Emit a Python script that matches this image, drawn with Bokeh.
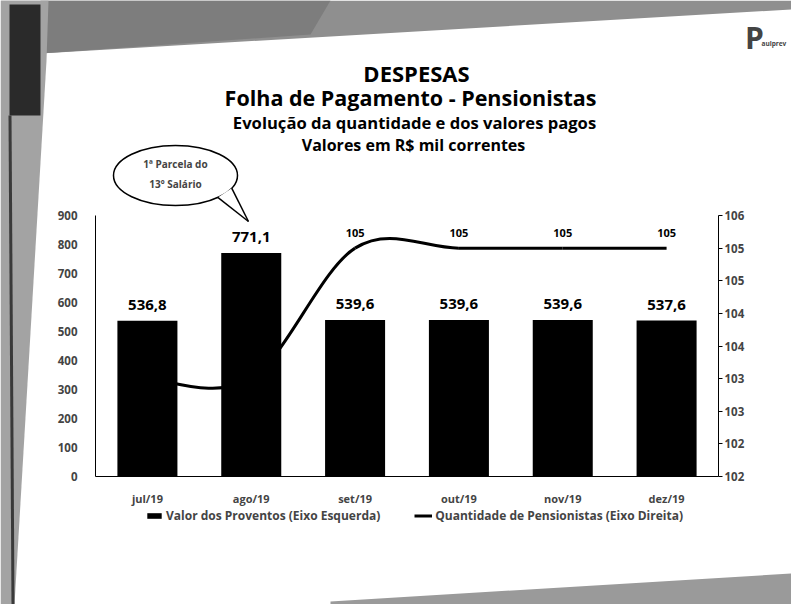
import numpy as np
from bokeh.plotting import figure
from bokeh.models import (Range1d, LinearAxis, FixedTicker, ColumnDataSource, LabelSet, Label,
                          Legend, LegendItem, PolyAnnotation)
from bokeh.core.properties import value
from bokeh.embed import file_html
from bokeh.resources import INLINE

# ---------------- data ----------------
months = ["jul/19", "ago/19", "set/19", "out/19", "nov/19", "dez/19"]
proventos = [536.8, 771.1, 539.6, 539.6, 539.6, 537.6]
pensionistas = [103.5, 103.5, 105.5, 105.5, 105.5, 105.5]
left_ticks = [0, 100, 200, 300, 400, 500, 600, 700, 800, 900]
right_ticks = [102, 102.5, 103, 103.5, 104, 104.5, 105, 105.5, 106]
right_tick_labels = ["102", "102", "103", "103", "104", "104", "105", "105", "106"]

FONT = "Open Sans"

# ---------------- geometry (frame = whole canvas, axes at fixed locations) ----------------
W, H = 791, 604
AX_L, AX_R, AX_T, AX_B = 95, 718, 215, 476      # plot-area edges in picture pixels
CAT_W = (AX_R - AX_L) / 6.0
PX_PER_UNIT = (AX_B - AX_T) / 900.0
R_PX_PER_UNIT = (AX_B - AX_T) / 4.0

X0 = -0.5 - AX_L / CAT_W
X1 = 5.5 + (W - AX_R) / CAT_W
Y0 = -(H - AX_B) / PX_PER_UNIT
Y1 = AX_B / PX_PER_UNIT
RY0 = 102 - (H - AX_B) / R_PX_PER_UNIT
RY1 = 102 + AX_B / R_PX_PER_UNIT


def dx(px):
    """picture x -> data x"""
    return X0 + px / CAT_W


def dy(py):
    """picture y -> left-axis data y"""
    return (AX_B - py) / PX_PER_UNIT


p = figure(width=W, height=H, min_border=0,
           x_range=Range1d(X0, X1), y_range=Range1d(Y0, Y1),
           output_backend="svg", toolbar_location=None,
           outline_line_color=None, background_fill_color="white", border_fill_color="white")
p.xgrid.grid_line_color = None
p.ygrid.grid_line_color = None

# scan edges of the photographed page (decoration)
for xs, ys, col in [([0, 791, 791, 40], [0, 0, 9, 53], "#8f8f8f"),
                    ([40, 330, 310, 40], [0, 0, 34, 53], "#7d7d7d"),
                    ([0, 48, 46, 14, 0], [0, 0, 60, 604, 604], "#a3a3a3"),
                    ([9, 40, 40, 9], [4, 4, 115, 115], "#2a2a2a"),
                    ([8, 11, 14, 11], [115, 115, 604, 604], "#3a3a3a"),
                    ([330, 791, 791, 330], [601, 573, 604, 604], "#9a9a9a")]:
    p.add_layout(PolyAnnotation(xs=[dx(v) for v in xs], ys=[dy(v) for v in ys],
                                fill_color=col, fill_alpha=1, line_color=None, level="underlay"))

# x axis
xa = p.xaxis[0]
xa.fixed_location = 0
xa.bounds = (-0.5, 5.5)
xa.ticker = FixedTicker(ticks=list(range(len(months))))
xa.major_label_overrides = {i: m for i, m in enumerate(months)}
xa.major_tick_line_color = None
xa.minor_tick_line_color = None
xa.axis_line_color = "black"
xa.major_label_text_font = FONT
xa.major_label_text_font_style = "bold"
xa.major_label_text_font_size = "11px"
xa.major_label_standoff = 8

# left axis
ya = p.yaxis[0]
ya.fixed_location = -0.5
ya.ticker = FixedTicker(ticks=left_ticks)
ya.bounds = (0, 900)
ya.major_tick_line_color = None
ya.minor_tick_line_color = None
ya.axis_line_color = "black"
ya.major_label_text_font = FONT
ya.major_label_text_font_style = "bold"
ya.major_label_text_font_size = "11.5px"
ya.major_label_standoff = 12

# right axis
p.extra_y_ranges = {"right": Range1d(RY0, RY1)}
ra = LinearAxis(y_range_name="right", fixed_location=5.5,
                ticker=FixedTicker(ticks=right_ticks), bounds=(102, 106))
ra.major_label_overrides = {t: l for t, l in zip(right_ticks, right_tick_labels)}
ra.major_tick_out = 4
ra.major_tick_in = 0
ra.minor_tick_line_color = None
ra.axis_line_color = "black"
ra.major_label_text_font = FONT
ra.major_label_text_font_style = "bold"
ra.major_label_text_font_size = "11.5px"
ra.major_label_standoff = 2
p.add_layout(ra, "right")

# bars
idx = list(range(len(months)))
bsrc = ColumnDataSource(dict(x=idx, top=proventos,
                             lbl=[f"{v:.1f}".replace(".", ",") for v in proventos]))
bars = p.vbar(x="x", top="top", width=0.578, source=bsrc, fill_color="black", line_color=None)
p.add_layout(LabelSet(x="x", y="top", text="lbl", source=bsrc, y_offset=11,
                      text_align="center", text_baseline="bottom",
                      text_font=value(FONT), text_font_style="bold", text_font_size="15px",
                      text_color="black"))

# smoothed line (Catmull-Rom bezier through the data points)
n = len(pensionistas)
seg = dict(x0=[], y0=[], x1=[], y1=[], cx0=[], cy0=[], cx1=[], cy1=[])
for i in range(n - 1):
    i0, i3 = max(i - 1, 0), min(i + 2, n - 1)
    seg["x0"].append(idx[i]); seg["y0"].append(pensionistas[i])
    seg["x1"].append(idx[i + 1]); seg["y1"].append(pensionistas[i + 1])
    seg["cx0"].append(idx[i] + (idx[i + 1] - idx[i0]) / 6.0)
    seg["cy0"].append(pensionistas[i] + (pensionistas[i + 1] - pensionistas[i0]) / 6.0)
    seg["cx1"].append(idx[i + 1] - (idx[i3] - idx[i]) / 6.0)
    seg["cy1"].append(pensionistas[i + 1] - (pensionistas[i3] - pensionistas[i]) / 6.0)
line_r = p.bezier(x0="x0", y0="y0", x1="x1", y1="y1", cx0="cx0", cy0="cy0", cx1="cx1", cy1="cy1",
                  source=ColumnDataSource(seg), y_range_name="right",
                  line_color="black", line_width=3)

lsrc = ColumnDataSource(dict(x=idx, y=pensionistas, lbl=[str(int(v)) for v in pensionistas]))
p.add_layout(LabelSet(x="x", y="y", text="lbl", source=lsrc, y_range_name="right", y_offset=11,
                      text_align="center", text_baseline="bottom",
                      text_font=value(FONT), text_font_style="bold", text_font_size="11px",
                      text_color="black"))

# legend (frame covers the whole canvas: location measured from bottom-left)
legend = Legend(items=[LegendItem(label="Valor dos Proventos (Eixo Esquerda)", renderers=[bars]),
                       LegendItem(label="Quantidade de Pensionistas (Eixo Direita)", renderers=[line_r])],
                orientation="horizontal", location=(145, H - 524),
                label_text_font=FONT, label_text_font_style="bold", label_text_font_size="12px",
                glyph_width=18, glyph_height=7, label_standoff=3, spacing=34,
                border_line_color=None, background_fill_alpha=0, padding=0, margin=0)
p.add_layout(legend)

# titles
for txt, ypx, size, xc in [("DESPESAS", 72, "22px", 416),
                           ("Folha de Pagamento - Pensionistas", 97, "21.5px", 410),
                           ("Evolução da quantidade e dos valores pagos", 122, "16.6px", 414),
                           ("Valores em R$ mil correntes", 144, "16px", 413)]:
    p.add_layout(Label(x=dx(xc), y=dy(ypx), text=txt, text_align="center", text_baseline="middle",
                       text_font=FONT, text_font_style="bold", text_font_size=size, text_color="black"))

# callout bubble
cx, cy, a, b = 175, 175, 62, 30
p.ellipse(x=[dx(cx)], y=[dy(cy)], width=[2 * a / CAT_W], height=[2 * b / PX_PER_UNIT],
          fill_color="white", line_color="black", line_width=1.5)
tip = (248, 221)
L = (cx + a * np.cos(np.radians(47)), cy + b * np.sin(np.radians(47)))
R = (cx + a * np.cos(np.radians(25)), cy + b * np.sin(np.radians(25)))
p.patch(x=[dx(tip[0]), dx(L[0]), dx(R[0])], y=[dy(tip[1]), dy(L[1]), dy(R[1])],
        fill_color="white", line_color=None)
p.multi_line(xs=[[dx(L[0]), dx(tip[0])], [dx(R[0]), dx(tip[0])]],
             ys=[[dy(L[1]), dy(tip[1])], [dy(R[1]), dy(tip[1])]],
             line_color="black", line_width=1.5)
for txt, ypx in [("1ª Parcela do", 163), ("13º Salário", 183)]:
    p.add_layout(Label(x=dx(cx), y=dy(ypx), text=txt, text_align="center", text_baseline="middle",
                       text_font=FONT, text_font_style="bold", text_font_size="10px"))

# logo
p.add_layout(Label(x=dx(754), y=dy(37), text="P", text_align="center", text_baseline="middle",
                   text_font=FONT, text_font_style="bold", text_font_size="30px"))
p.add_layout(Label(x=dx(761), y=dy(43), text="aulprev", text_align="left", text_baseline="middle",
                   text_font=FONT, text_font_style="bold", text_font_size="6.5px"))

open("out.html", "w").write(file_html(p, INLINE))
